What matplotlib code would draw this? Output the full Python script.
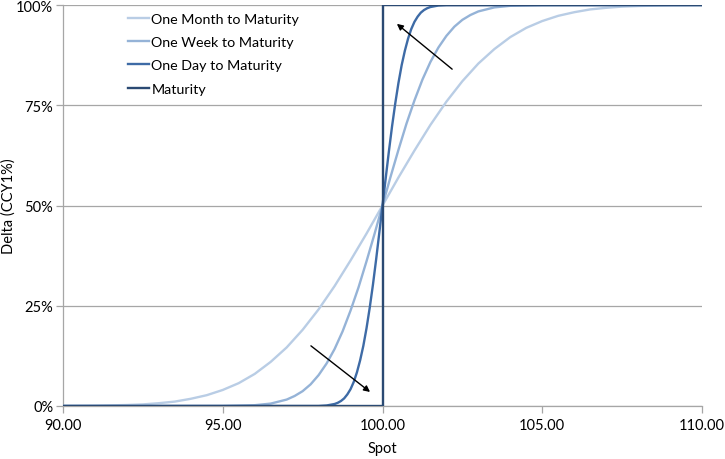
import matplotlib
matplotlib.use("Agg")
import matplotlib.pyplot as plt
from matplotlib.ticker import PercentFormatter, FixedLocator

plt.rcParams['font.family'] = ['Lato', 'DejaVu Sans']

# ---- data ----
month_spot = [90, 91, 92, 92.5, 93, 93.5, 94, 94.5, 95, 95.5, 96, 96.5, 97, 97.5, 98, 98.5, 99, 99.5,
              100, 100.5, 101, 101.5, 102, 102.5, 103, 103.5, 104, 104.5, 105, 105.5, 106, 106.5,
              107, 107.5, 108, 109, 110]
month_delta = [0.0002, 0.0008, 0.0025, 0.004, 0.007, 0.011, 0.018, 0.027, 0.040, 0.057, 0.080, 0.110,
               0.146, 0.190, 0.241, 0.299, 0.363, 0.430, 0.5, 0.570, 0.637, 0.701, 0.759, 0.810, 0.854,
               0.890, 0.920, 0.943, 0.960, 0.973, 0.982, 0.989, 0.993, 0.996, 0.9975, 0.9992, 0.9998]

week_spot = [90, 95, 96, 96.5, 97, 97.25, 97.5, 97.75, 98, 98.25, 98.5, 98.75, 99, 99.25, 99.5, 99.75,
             100, 100.25, 100.5, 100.75, 101, 101.25, 101.5, 101.75, 102, 102.25, 102.5, 102.75, 103,
             103.5, 104, 105, 110]
week_delta = [0.0, 0.0002, 0.002, 0.006, 0.016, 0.025, 0.037, 0.054, 0.077, 0.106, 0.142, 0.186, 0.238,
              0.296, 0.361, 0.429, 0.5, 0.571, 0.639, 0.704, 0.762, 0.814, 0.858, 0.894, 0.923, 0.946,
              0.963, 0.975, 0.984, 0.994, 0.998, 0.9998, 1.0]

day_spot = [90, 98, 98.25, 98.5, 98.6, 98.7, 98.8, 98.9, 99.0, 99.1, 99.2, 99.3, 99.4, 99.5, 99.6, 99.7,
            99.8, 99.9, 100, 100.1, 100.2, 100.3, 100.4, 100.5, 100.6, 100.7, 100.8, 100.9, 101.0, 101.1,
            101.2, 101.3, 101.4, 101.5, 101.75, 102, 110]
day_delta = [0.0, 0.0, 0.0013, 0.005, 0.008, 0.0125, 0.019, 0.029, 0.042, 0.060, 0.084, 0.114, 0.150,
             0.194, 0.245, 0.302, 0.365, 0.432, 0.5, 0.568, 0.635, 0.698, 0.755, 0.806, 0.850, 0.886,
             0.916, 0.940, 0.958, 0.971, 0.981, 0.9875, 0.992, 0.995, 0.9987, 0.9997, 1.0]

mat_spot = [90, 100, 100, 110]
mat_delta = [0, 0, 1, 1]

labels = ["One Month to Maturity", "One Week to Maturity", "One Day to Maturity", "Maturity"]
colors = ["#B9CDE5", "#95B3D7", "#3E6BA6", "#2B4A73"]

x_ticks = [90, 95, 100, 105, 110]
y_ticks = [0, 0.25, 0.5, 0.75, 1.0]

# ---- figure ----
fig = plt.figure(figsize=(7.25, 4.6), dpi=100)
ax = fig.add_axes([63/725, 1 - 407/460, (702-63)/725, (407-6)/460])

series = [(month_spot, month_delta), (week_spot, week_delta), (day_spot, day_delta), (mat_spot, mat_delta)]
for (xs, ys), lab, col in zip(series, labels, colors):
    ax.plot(xs, ys, color=col, lw=1.7, label=lab, solid_joinstyle='round', zorder=3)

ax.set_xlim(90, 110)
ax.set_ylim(0, 1)
ax.xaxis.set_major_locator(FixedLocator(x_ticks))
ax.yaxis.set_major_locator(FixedLocator(y_ticks))
ax.xaxis.set_major_formatter(plt.FuncFormatter(lambda v, p: f"{v:.2f}"))
ax.yaxis.set_major_formatter(PercentFormatter(1.0, decimals=0))

ax.grid(axis='y', color='#A6A6A6', lw=0.9, zorder=0)
ax.set_axisbelow(True)
for s in ['top', 'right']:
    ax.spines[s].set_visible(False)
for s in ['left', 'bottom']:
    ax.spines[s].set_color('#A6A6A6')
    ax.spines[s].set_linewidth(0.9)
ax.tick_params(axis='both', colors='#A6A6A6', labelcolor='black', labelsize=10.5, length=5, width=0.9)
ax.tick_params(axis='x', pad=4)
ax.tick_params(axis='y', pad=2)

ax.set_xlabel("Spot", fontsize=10.5, labelpad=6)
ax.set_ylabel("Delta (CCY1%)", fontsize=10.5)
ax.yaxis.set_label_coords((16 - 63) / 639, 0.5)

ax.annotate('', xy=(100.45, 0.953), xytext=(102.18, 0.840),
            arrowprops=dict(arrowstyle='-|>', color='black', lw=1, mutation_scale=9, shrinkA=0, shrinkB=0))
ax.annotate('', xy=(99.61, 0.035), xytext=(97.76, 0.150),
            arrowprops=dict(arrowstyle='-|>', color='black', lw=1, mutation_scale=9, shrinkA=0, shrinkB=0))

leg = ax.legend(loc='upper left', bbox_to_anchor=(128/725, 1 - 14/460), bbox_transform=fig.transFigure,
                frameon=False, fontsize=10.3, handlelength=1.48, handletextpad=0.15,
                labelspacing=0.78, borderpad=0, borderaxespad=0)

fig.savefig("out.png", dpi=100)
